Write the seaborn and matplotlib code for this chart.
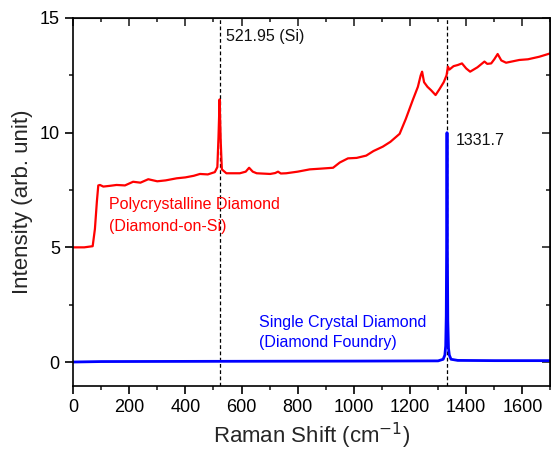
import matplotlib
matplotlib.use("Agg")
import matplotlib.pyplot as plt
from matplotlib.ticker import MultipleLocator
import seaborn as sns
import pandas as pd

# ---- data ----
poly_x = [0, 40, 70, 78, 85, 90, 96, 108, 130, 155, 185, 214, 240, 268, 300, 330, 369, 400, 430, 452,
          480, 505, 514, 518, 522, 526, 530, 546, 594, 615, 627, 640, 654, 702, 720, 730, 740, 759, 800,
          843, 880, 926, 950, 979, 1010, 1044, 1070, 1103, 1130, 1163, 1185, 1210, 1228, 1238, 1243, 1250,
          1262, 1275, 1291, 1305, 1320, 1330, 1335, 1340, 1355, 1370, 1385, 1400, 1414, 1440, 1465, 1475,
          1489, 1500, 1512, 1525, 1542, 1589, 1620, 1660, 1700]
poly_y = [5.0, 5.0, 5.05, 5.8, 7.0, 7.7, 7.72, 7.65, 7.68, 7.72, 7.7, 7.86, 7.82, 7.97, 7.88, 7.92, 8.01,
          8.05, 8.12, 8.2, 8.18, 8.28, 8.5, 9.8, 11.45, 9.6, 8.4, 8.23, 8.23, 8.3, 8.47, 8.3, 8.23, 8.2,
          8.24, 8.3, 8.22, 8.23, 8.3, 8.4, 8.43, 8.47, 8.7, 8.88, 8.9, 9.0, 9.2, 9.39, 9.6, 9.95, 10.6,
          11.43, 12.0, 12.5, 12.66, 12.2, 12.0, 11.85, 11.64, 11.9, 12.2, 12.5, 12.88, 12.75, 12.9, 12.95,
          13.02, 12.8, 12.66, 12.85, 13.1, 13.0, 13.02, 13.2, 13.43, 13.15, 13.05, 13.17, 13.2, 13.31, 13.46]

single_x = [0, 100, 500, 1000, 1300, 1318, 1324, 1327, 1329, 1330.5, 1331.7, 1333, 1334.5, 1337, 1340,
            1346, 1370, 1500, 1700]
single_y = [0.0, 0.02, 0.03, 0.04, 0.05, 0.12, 0.3, 0.7, 2.0, 5.5, 10.0, 5.0, 1.8, 0.6, 0.3,
            0.12, 0.07, 0.06, 0.06]

peak_positions = [521.95, 1331.7]
peak_labels = ["521.95 (Si)", "1331.7"]

df_poly = pd.DataFrame({"shift": poly_x, "intensity": poly_y})
df_single = pd.DataFrame({"shift": single_x, "intensity": single_y})

# ---- style ----
sns.set_style("ticks")
plt.rcParams["font.family"] = ["Liberation Sans", "DejaVu Sans"]

fig = plt.figure(figsize=(5.51, 4.5), dpi=100)
ax = fig.add_axes([0.1325, 0.142, 0.8665, 0.818])

sns.lineplot(data=df_poly, x="shift", y="intensity", ax=ax, color="#ff0000", linewidth=1.6)
sns.lineplot(data=df_single, x="shift", y="intensity", ax=ax, color="#0000ff", linewidth=2.0)

for xp in peak_positions:
    ax.axvline(xp, color="black", linestyle=(0, (3, 2)), linewidth=0.9, zorder=1)

fs = 11.5
ax.text(546, 14.2, peak_labels[0], fontsize=fs, va="center", ha="left", color="#111111")
ax.text(1364, 9.68, peak_labels[1], fontsize=fs, va="center", ha="left", color="#111111")
ax.text(129, 6.85, "Polycrystalline Diamond", fontsize=fs, va="center", ha="left", color="#ff0000")
ax.text(129, 5.93, "(Diamond-on-Si)", fontsize=fs, va="center", ha="left", color="#ff0000")
ax.text(661, 1.74, "Single Crystal Diamond", fontsize=fs, va="center", ha="left", color="#0000ff")
ax.text(661, 0.83, "(Diamond Foundry)", fontsize=fs, va="center", ha="left", color="#0000ff")

ax.set_xlim(0, 1700)
ax.set_ylim(-1.05, 15)
ax.xaxis.set_major_locator(MultipleLocator(200))
ax.xaxis.set_minor_locator(MultipleLocator(100))
ax.yaxis.set_major_locator(MultipleLocator(5))
ax.yaxis.set_minor_locator(MultipleLocator(2.5))

ax.set_xlabel("Raman Shift (cm$^{\\mathsf{-1}}$)", fontsize=16, labelpad=3)
ax.set_ylabel("Intensity (arb. unit)", fontsize=16, labelpad=5)

ax.tick_params(which="major", direction="out", length=6, width=1.2, labelsize=13, colors="black")
ax.tick_params(which="minor", direction="out", length=3, width=1.2)
for s in ax.spines.values():
    s.set_linewidth(1.2)
    s.set_color("black")
    s.set_visible(True)

top = ax.secondary_xaxis("top")
top.xaxis.set_major_locator(MultipleLocator(200))
top.xaxis.set_minor_locator(MultipleLocator(100))
top.tick_params(which="major", direction="in", length=6, width=1.2, labeltop=False)
top.tick_params(which="minor", direction="in", length=3, width=1.2)

right = ax.secondary_yaxis("right")
right.yaxis.set_major_locator(MultipleLocator(5))
right.yaxis.set_minor_locator(MultipleLocator(2.5))
right.tick_params(which="major", direction="in", length=6, width=1.2, labelright=False)
right.tick_params(which="minor", direction="in", length=3, width=1.2)

fig.savefig("out.png", dpi=100)
